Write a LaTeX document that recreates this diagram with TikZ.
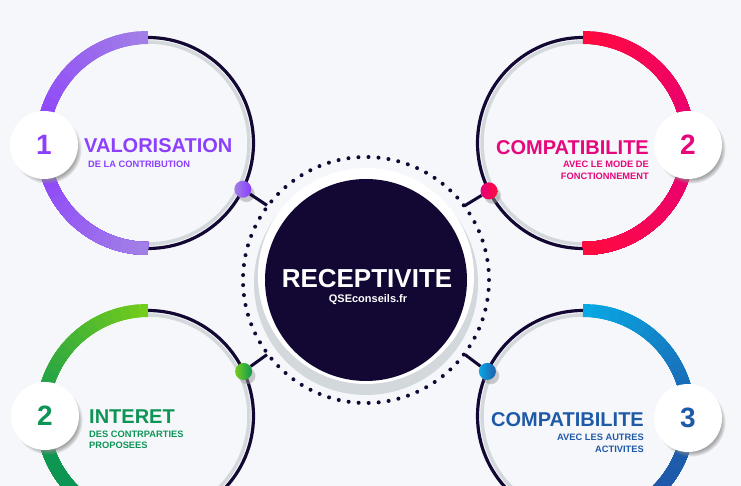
\documentclass[tikz,border=0pt]{standalone}
\usepackage{fontspec}
\setmainfont{Liberation Sans}
\usetikzlibrary{calc,shadows}

\definecolor{bg}{HTML}{F5F7FA}
\definecolor{navy}{HTML}{120833}
\definecolor{ringgray}{HTML}{D3D8DD}
\definecolor{purpleA}{HTML}{A27FE6}
\definecolor{purpleB}{HTML}{8A3CFD}
\definecolor{purpleT}{HTML}{8D3FFE}
\definecolor{redA}{HTML}{FF0A3F}
\definecolor{redB}{HTML}{E4007A}
\definecolor{redT}{HTML}{E6077C}
\definecolor{greenA}{HTML}{74CC1C}
\definecolor{greenB}{HTML}{0F9852}
\definecolor{greenC}{HTML}{0A9455}
\definecolor{greenT}{HTML}{0F9457}
\definecolor{blueA}{HTML}{08A8E4}
\definecolor{blueB}{HTML}{1E5DAC}
\definecolor{blueC}{HTML}{1E55A5}
\definecolor{blueT}{HTML}{1F5AA7}

% arc en degrade : #1 centre, #2 angle de depart, #3 sens, #4 #5 #6 couleurs
\newcommand{\colourarc}[6]{%
  \foreach \i in {0,...,35}{%
    \pgfmathsetmacro\a{#2+#3*5*\i}%
    \pgfmathsetmacro\e{#2+#3*180}%
    \ifnum\i<18
      \pgfmathtruncatemacro\p{100-\i*100/18}%
      \draw[line width=13pt, #4!\p!#5] ($(#1)+(\a:105.5)$) arc[start angle=\a, end angle=\e, radius=105.5];
    \else
      \pgfmathtruncatemacro\p{100-(\i-18)*100/17}%
      \draw[line width=13pt, #5!\p!#6] ($(#1)+(\a:105.5)$) arc[start angle=\a, end angle=\e, radius=105.5];
    \fi
  }}

\begin{document}
\begin{tikzpicture}[
    x=1pt, y=1pt,
    badge/.style={circle, fill=white, minimum size=68pt, inner sep=0pt,
      font=\fontsize{28}{28}\selectfont\bfseries,
      circular drop shadow={shadow xshift=3pt, shadow yshift=-4pt, shadow scale=1.02, fill=black!45, opacity=.75}},
    dot/.style={circle, minimum size=17pt, inner sep=0pt,
      circular drop shadow={shadow xshift=3pt, shadow yshift=-4pt, shadow scale=1.05, fill=black!40, opacity=.5}},
    title/.style={font=\fontsize{20}{20}\selectfont\bfseries, inner sep=0pt},
    sub/.style={font=\fontsize{9.3}{9.3}\selectfont\bfseries, inner sep=0pt},
    conn/.style={navy, line width=3pt}
]
    \useasboundingbox (0,0) rectangle (741,486);
    \clip (0,0) rectangle (741,486);
    \fill[bg] (0,0) rectangle (741,486);

    % centres des cercles
    \coordinate (c1) at (148,343);
    \coordinate (c2) at (583,343);
    \coordinate (c3) at (148,70);
    \coordinate (c4) at (583,70);

    % cercle central
    \fill[ringgray] (366,203) circle (112);
    \fill[white] (366,210) circle (108);
    \draw[navy, line width=4pt, line cap=round, dash pattern=on 0pt off 10.04pt] (366,206) circle (123);
    \node[circle, fill=navy, minimum size=202pt, inner sep=0pt] (core) at (366,206) {};
    \node[inner sep=0pt, anchor=base, text=white, font=\fontsize{26}{26}\selectfont\bfseries] (main) at (367,198) {RECEPTIVITE};
    \node[inner sep=0pt, anchor=base, text=white, font=\fontsize{11}{11}\selectfont\bfseries] (site) at (368,183) {QSEconseils.fr};

    % anneaux fins
    \foreach \c in {c1,c2,c3,c4}{
      \draw[ringgray, line width=3.5pt] (\c) circle (101);
      \draw[navy, line width=3.2pt] (\c) circle (105.5);
    }

    % arcs en couleur
    \colourarc{c1}{90}{1}{purpleA}{purpleB}{purpleA}
    \colourarc{c2}{90}{-1}{redA}{redB}{redA}
    \colourarc{c3}{90}{1}{greenA}{greenB}{greenC}
    \colourarc{c4}{90}{-1}{blueA}{blueB}{blueC}

    % 1 valorisation
    \node[badge, text=purpleT] (b1) at (44,341) {1};
    \node[title, text=purpleT, anchor=base west] (t1) at (84,333) {VALORISATION};
    \node[sub, text=purpleT, anchor=base west] (s1) at (88,318.5) {DE LA CONTRIBUTION};

    % 2 compatibilite
    \node[badge, text=redT] (b2) at (688,341) {2};
    \node[title, text=redT, anchor=base east] (t2) at (649,331) {COMPATIBILITE};
    \node[sub, text=redT, anchor=base east] (s2a) at (649,318) {AVEC LE MODE DE};
    \node[sub, text=redT, anchor=base east] (s2b) at (649,306) {FONCTIONNEMENT};

    % 2 interet
    \node[badge, text=greenT] (b3) at (45,70) {2};
    \node[title, text=greenT, anchor=base west] (t3) at (89,62) {INTERET};
    \node[sub, text=greenT, anchor=base west] (s3a) at (89,48.7) {DES CONTRPARTIES};
    \node[sub, text=greenT, anchor=base west] (s3b) at (89,37.7) {PROPOSEES};

    % 3 compatibilite
    \node[badge, text=blueT] (b4) at (688,68) {3};
    \node[title, text=blueT, anchor=base east] (t4) at (644,59) {COMPATIBILITE};
    \node[sub, text=blueT, anchor=base east] (s4a) at (644,45.3) {AVEC LES AUTRES};
    \node[sub, text=blueT, anchor=base east] (s4b) at (644,33.7) {ACTIVITES};

    % liaisons vers le centre
    \coordinate (e1) at ($(core)+(143:124)$);
    \coordinate (e2) at ($(core)+(37:123)$);
    \coordinate (e3) at ($(core)+(217:124)$);
    \coordinate (e4) at ($(core)+(323:124)$);
    \node[dot, left color=purpleA, right color=purpleB] (d1) at ($(c1)+(-26:105.5)$) {};
    \node[dot, left color=redB, right color=redA] (d2) at ($(c2)+(207:105.5)$) {};
    \node[dot, left color=greenA, right color=greenB] (d3) at ($(c3)+(25:105.5)$) {};
    \node[dot, left color=blueA, right color=blueB] (d4) at ($(c4)+(155:105.5)$) {};
    \draw[conn] (d1) -- (e1);
    \draw[conn] (d2) -- (e2);
    \draw[conn] (d3) -- (e3);
    \draw[conn] (d4) -- (e4);
\end{tikzpicture}
\end{document}
